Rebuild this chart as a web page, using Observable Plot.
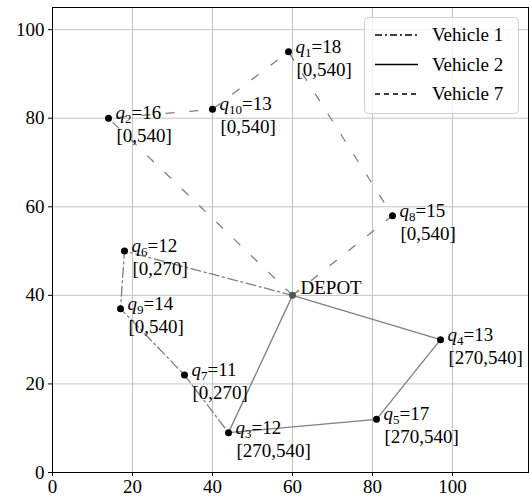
<!DOCTYPE html>
<html>
<head>
<meta charset="utf-8">
<script src="https://cdn.jsdelivr.net/npm/d3@7"></script>
<script src="https://cdn.jsdelivr.net/npm/@observablehq/plot@0.6"></script>
<style>
  html, body { margin: 0; padding: 0; background: #fff; }
  #chart svg { display: block; }
  #chart svg, #chart svg text { font-family: "Liberation Serif", "DejaVu Serif", serif !important; }
</style>
</head>
<body>
<div id="chart"></div>
<script>
// ---- data ----
const nodes   = ["DEPOT","q1","q2","q3","q4","q5","q6","q7","q8","q9","q10"];
const xs      = [60, 59, 14, 44, 97, 81, 18, 33, 85, 17, 40];
const ys      = [40, 95, 80,  9, 30, 12, 50, 22, 58, 37, 82];
const demand  = [null, 18, 16, 12, 13, 17, 12, 11, 15, 14, 13];
const windows = [null, "[0,540]", "[0,540]", "[270,540]", "[270,540]", "[270,540]",
                 "[0,270]", "[0,270]", "[0,540]", "[0,540]", "[0,540]"];
const vehicleNames = ["Vehicle 1", "Vehicle 2", "Vehicle 7"];
const vehicle1 = ["DEPOT","q6","q9","q7","q3"];
const vehicle2 = ["DEPOT","q4","q5","q3","DEPOT"];
const vehicle7 = ["DEPOT","q8","q1","q10","q2","DEPOT"];
const xTicks = [0, 20, 40, 60, 80, 100];
const yTicks = [0, 20, 40, 60, 80, 100];

// ---- build tables ----
const pts = nodes.map((n, i) => ({name: n, x: xs[i], y: ys[i], q: demand[i], w: windows[i]}));
const byName = Object.fromEntries(pts.map(p => [p.name, p]));
const routePts = (r) => r.map(n => byName[n]);
const customers = pts.filter(p => p.name !== "DEPOT");
const depot = pts.filter(p => p.name === "DEPOT");

const FONT = "Liberation Serif, DejaVu Serif, serif";
const FS = 19;
const LINE = "#7f7f7f";

const chart = Plot.plot({
  width: 529,
  height: 496,
  marginLeft: 52,
  marginRight: 1,
  marginTop: 7,
  marginBottom: 24,
  style: {background: "#fff", color: "#000", fontSize: FS + "px"},
  x: {domain: [0, 119], ticks: xTicks, label: null},
  y: {domain: [0, 105], ticks: yTicks, label: null},
  marks: [
    Plot.gridX(xTicks.slice(1), {stroke: "#c4c4c4", strokeOpacity: 1, strokeWidth: 1}),
    Plot.gridY(yTicks.slice(1), {stroke: "#c4c4c4", strokeOpacity: 1, strokeWidth: 1}),
    Plot.line(routePts(vehicle1), {x: "x", y: "y", stroke: LINE, strokeWidth: 1.3, strokeDasharray: "10,3.5,2,3.5"}),
    Plot.line(routePts(vehicle2), {x: "x", y: "y", stroke: LINE, strokeWidth: 1.3}),
    Plot.line(routePts(vehicle7), {x: "x", y: "y", stroke: LINE, strokeWidth: 1.3, strokeDasharray: "8,16"}),
    Plot.dot(customers, {x: "x", y: "y", r: 3.5, fill: "#000", stroke: "none"}),
    Plot.dot(depot, {x: "x", y: "y", r: 3.5, fill: "#555", stroke: "none"}),
    Plot.text(customers, {x: "x", y: "y", text: d => `q${d.name.slice(1)}=${d.q}`, dx: 7, dy: -5,
      textAnchor: "start", fill: "#000", fontSize: FS}),
    Plot.text(customers, {x: "x", y: "y", text: "w", dx: 8, dy: 18,
      textAnchor: "start", fill: "#000", fontSize: FS}),
    Plot.text(depot, {x: "x", y: "y", text: "name", dx: 8, dy: -7,
      textAnchor: "start", fill: "#000", fontSize: FS}),
    Plot.axisX(xTicks, {tickSize: 4, tickPadding: 3, fontSize: FS, stroke: "#000", label: null}),
    Plot.axisY(yTicks, {tickSize: 4, tickPadding: 4, fontSize: FS, stroke: "#000", label: null}),
    Plot.frame({stroke: "#000", strokeWidth: 1})
  ]
});
d3.select(chart).attr("font-family", FONT);

// italic q with subscript index
d3.select(chart).selectAll("text").each(function () {
  const t = (this.textContent || "").trim();
  const m = t.match(/^q(\d+)=(\d+)$/);
  if (!m) return;
  const el = d3.select(this);
  el.selectAll("*").remove();
  el.text(null);
  el.append("tspan").attr("font-style", "italic").style("font-style", "italic").text("q");
  el.append("tspan").attr("font-size", 13).attr("dy", 4).text(m[1]);
  el.append("tspan").attr("dy", -4).text("=" + m[2]);
});

// legend (inside plot, upper right)
const svg = d3.select(chart);
const lg = svg.append("g").attr("font-size", FS).attr("text-anchor", "start");
lg.append("rect").attr("x", 364.5).attr("y", 17.5).attr("width", 154).attr("height", 96)
  .attr("rx", 4).attr("fill", "#fff").attr("fill-opacity", 0.8).attr("stroke", "#d0d0d0");
const dashes = ["7,3,2,3", null, "5,4"];
vehicleNames.forEach((name, i) => {
  const cy = 35 + i * 29.5;
  const ln = lg.append("line").attr("x1", 375).attr("x2", 418).attr("y1", cy).attr("y2", cy)
    .attr("stroke", "#000").attr("stroke-width", 1.5);
  if (dashes[i]) ln.attr("stroke-dasharray", dashes[i]);
  lg.append("text").attr("x", 432).attr("y", cy).attr("dy", "0.34em")
    .attr("text-anchor", "start").attr("fill", "#000").text(name);
});

document.getElementById("chart").append(chart);
</script>
</body>
</html>
